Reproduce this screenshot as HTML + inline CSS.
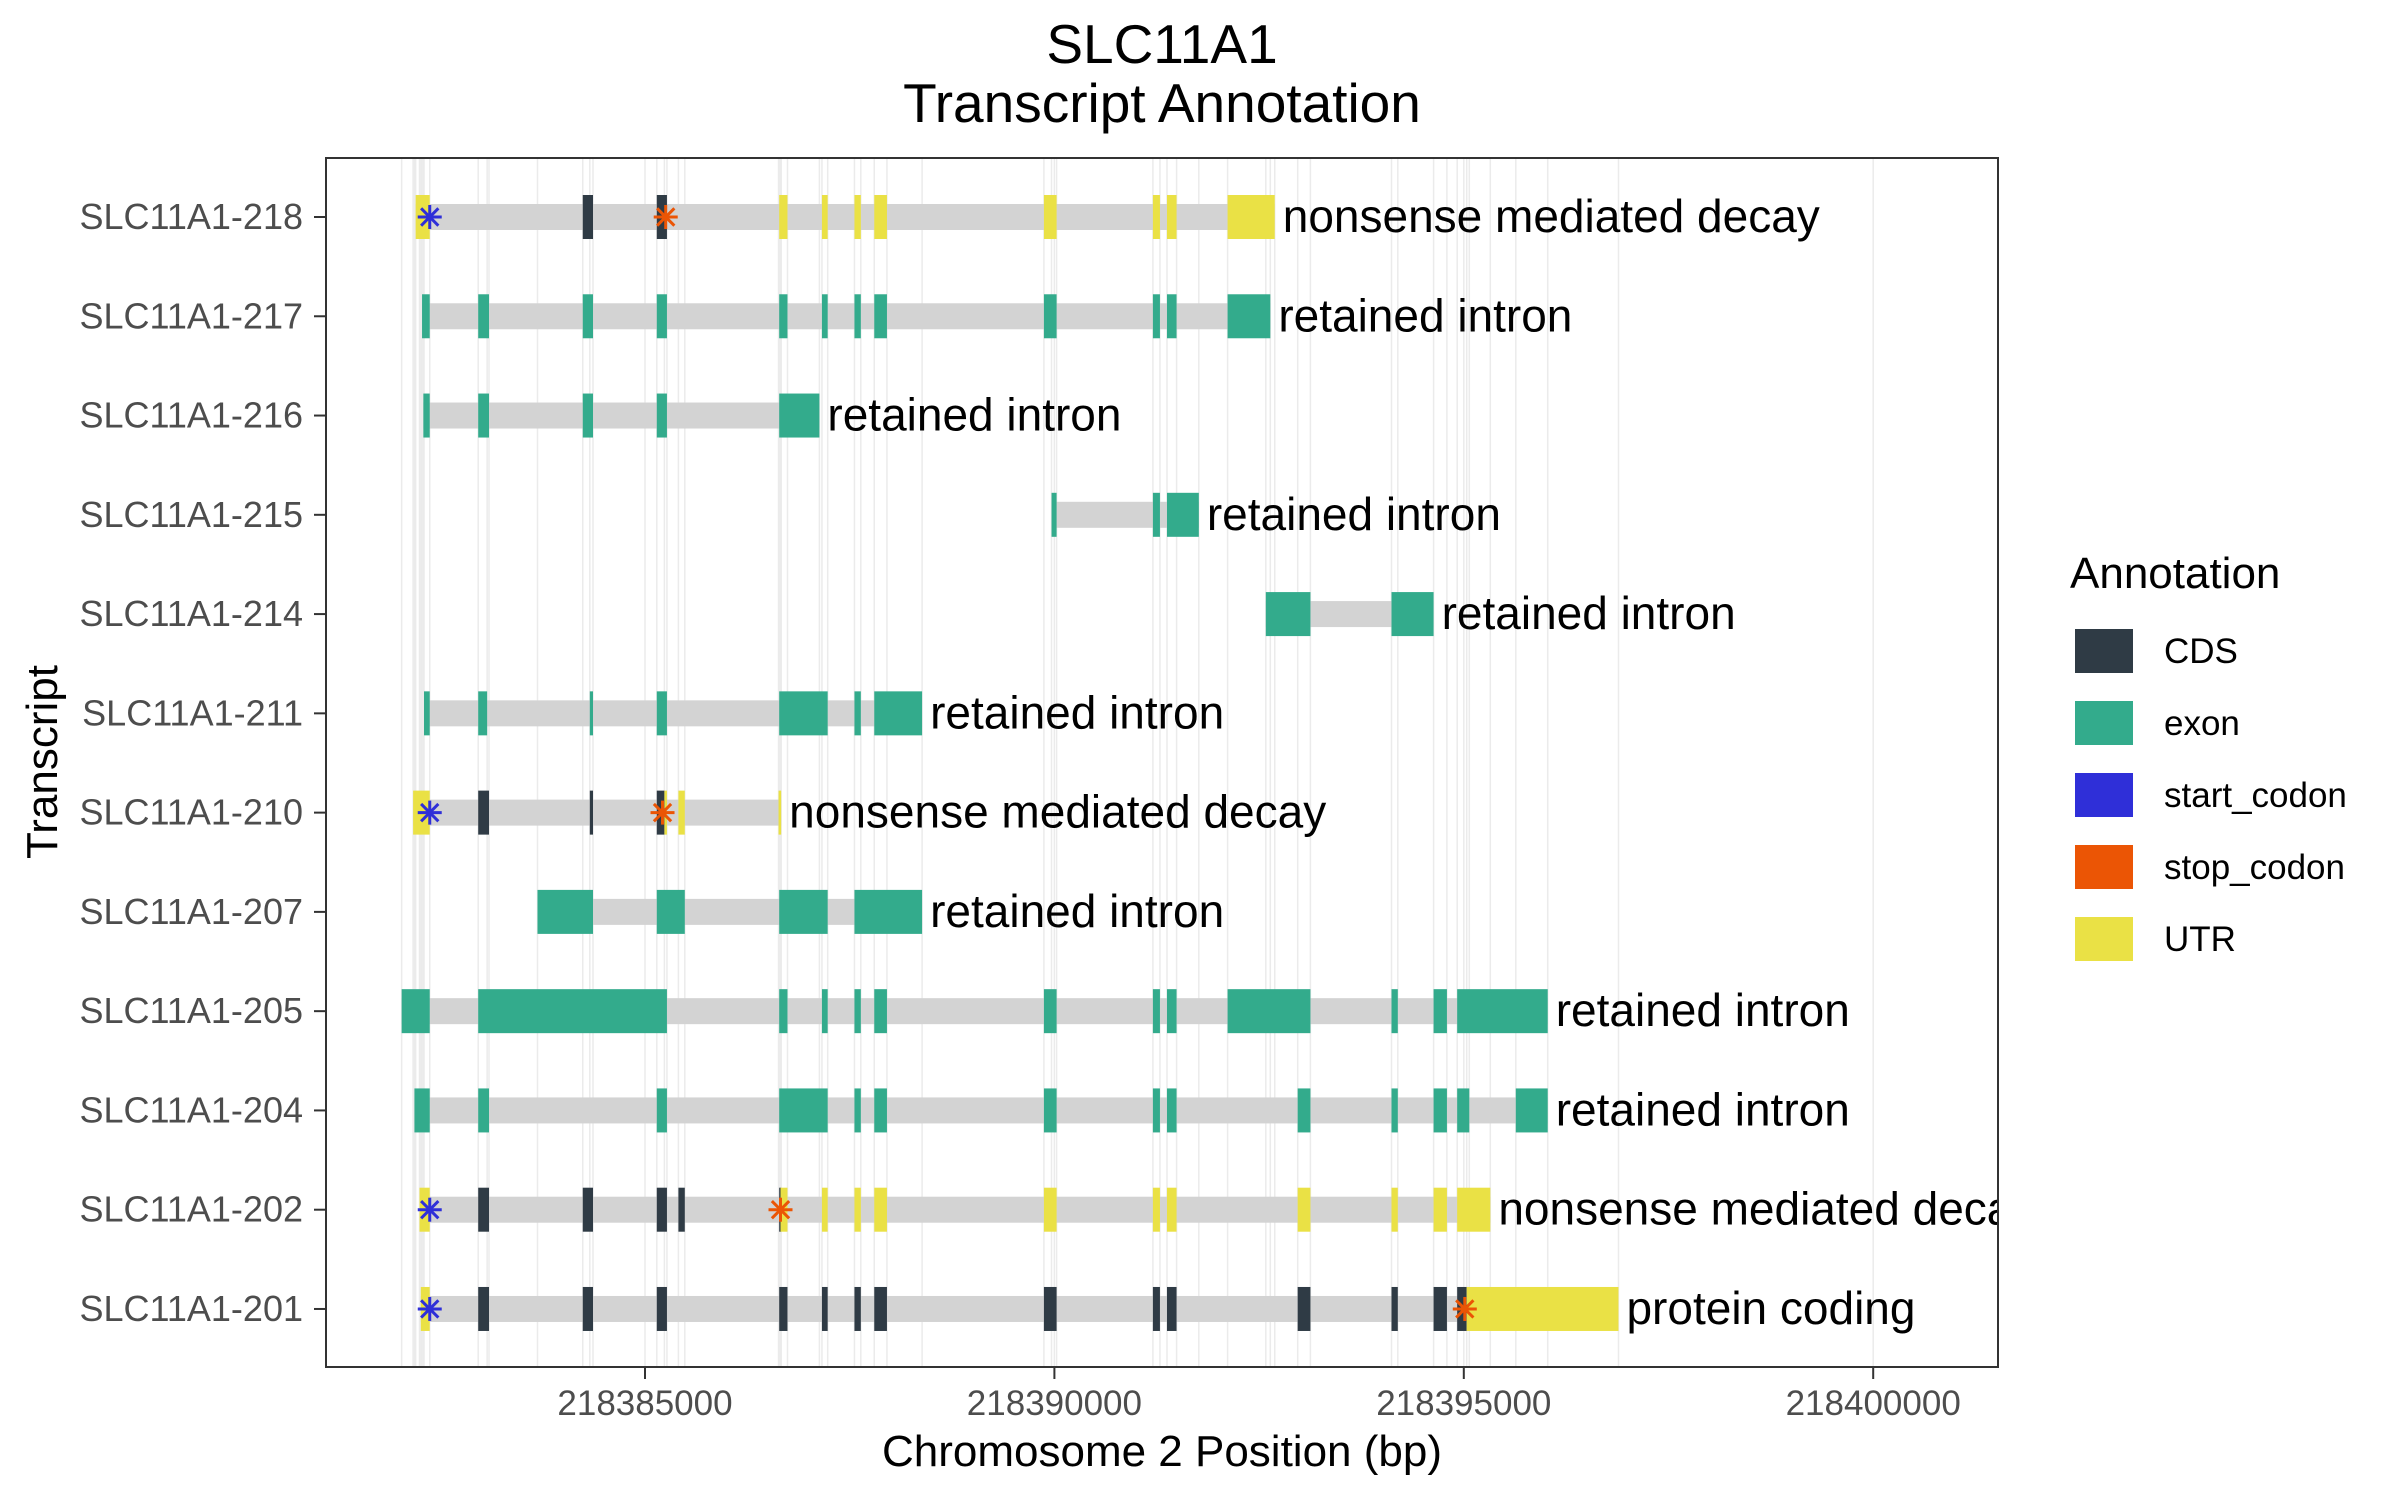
<!DOCTYPE html>
<html><head><meta charset="utf-8"><style>
html,body{margin:0;padding:0;background:#fff;}
svg{display:block;font-family:"Liberation Sans",Arial,sans-serif;}
</style></head><body>
<svg id="chart" width="2400" height="1500" viewBox="0 0 2400 1500" xmlns="http://www.w3.org/2000/svg">
<defs><clipPath id="panelClip"><rect x="326" y="158" width="1672" height="1209"/></clipPath></defs>
<rect width="2400" height="1500" fill="#fff"/>
<text x="1162" y="63" font-size="55" text-anchor="middle" fill="#000">SLC11A1</text>
<text x="1162" y="122" font-size="55" text-anchor="middle" fill="#000">Transcript Annotation</text>
<g id="grid"></g>
<g id="marks" clip-path="url(#panelClip)"></g>
<rect x="326" y="158" width="1672" height="1209" fill="none" stroke="#333" stroke-width="2"/>
<g id="axes"></g>
<text x="1162" y="1466" font-size="44" text-anchor="middle" fill="#000">Chromosome 2 Position (bp)</text>
<text transform="translate(57,762) rotate(-90)" font-size="44" text-anchor="middle" fill="#000">Transcript</text>
<g id="legend">
<text x="2070" y="588" font-size="44" fill="#000">Annotation</text>
</g>
</svg>
<script>
const transcripts = ["SLC11A1-218","SLC11A1-217","SLC11A1-216","SLC11A1-215","SLC11A1-214","SLC11A1-211","SLC11A1-210","SLC11A1-207","SLC11A1-205","SLC11A1-204","SLC11A1-202","SLC11A1-201"];
const biotypes = ["nonsense mediated decay","retained intron","retained intron","retained intron","retained intron","retained intron","nonsense mediated decay","retained intron","retained intron","retained intron","nonsense mediated decay","protein coding"];
const xTicks = [218385000,218390000,218395000,218400000];
const tx218 = [["U",218382199,218382371],["C",218384240,218384365],["C",218385144,218385268],["U",218386639,218386740],["U",218387161,218387231],["U",218387558,218387636],["U",218387800,218387955],["U",218389872,218390027],["U",218391203,218391289],["U",218391375,218391492],["U",218392115,218392691]];
const tx217 = [["E",218382277,218382371],["E",218382963,218383095],["E",218384240,218384365],["E",218385144,218385268],["E",218386639,218386740],["E",218387161,218387231],["E",218387558,218387636],["E",218387800,218387955],["E",218389872,218390027],["E",218391203,218391289],["E",218391375,218391492],["E",218392115,218392637]];
const tx216 = [["E",218382293,218382371],["E",218382963,218383095],["E",218384240,218384365],["E",218385144,218385268],["E",218386639,218387130]];
const tx215 = [["E",218389965,218390027],["E",218391203,218391289],["E",218391375,218391764]];
const tx214 = [["E",218392582,218393127],["E",218394117,218394631]];
const tx211 = [["E",218382301,218382371],["E",218382963,218383072],["E",218384326,218384365],["E",218385144,218385268],["E",218386639,218387231],["E",218387558,218387636],["E",218387800,218388384]];
const tx210 = [["U",218382168,218382371],["C",218382963,218383095],["C",218384326,218384365],["C",218385144,218385237],["U",218385237,218385268],["U",218385408,218385486],["U",218386631,218386663]];
const tx207 = [["E",218383687,218384365],["E",218385144,218385486],["E",218386639,218387231],["E",218387558,218388384]];
const tx205 = [["E",218382028,218382371],["E",218382963,218385268],["E",218386639,218386740],["E",218387161,218387231],["E",218387558,218387636],["E",218387800,218387955],["E",218389872,218390027],["E",218391203,218391289],["E",218391375,218391492],["E",218392115,218393127],["E",218394117,218394194],["E",218394631,218394794],["E",218394919,218396025]];
const tx204 = [["E",218382184,218382371],["E",218382963,218383095],["E",218385144,218385268],["E",218386639,218387231],["E",218387558,218387636],["E",218387800,218387955],["E",218389872,218390027],["E",218391203,218391289],["E",218391375,218391492],["E",218392971,218393127],["E",218394117,218394194],["E",218394631,218394794],["E",218394919,218395067],["E",218395635,218396025]];
const tx202 = [["U",218382246,218382371],["C",218382963,218383095],["C",218384240,218384365],["C",218385144,218385268],["C",218385408,218385486],["C",218386639,218386655],["U",218386655,218386740],["U",218387161,218387231],["U",218387558,218387636],["U",218387800,218387955],["U",218389872,218390027],["U",218391203,218391289],["U",218391375,218391492],["U",218392971,218393127],["U",218394117,218394194],["U",218394631,218394794],["U",218394919,218395324]];
const tx201 = [["U",218382262,218382371],["C",218382963,218383095],["C",218384240,218384365],["C",218385144,218385268],["C",218386639,218386740],["C",218387161,218387231],["C",218387558,218387636],["C",218387800,218387955],["C",218389872,218390027],["C",218391203,218391289],["C",218391375,218391492],["C",218392971,218393127],["C",218394117,218394194],["C",218394631,218394794],["C",218394919,218395035],["U",218395035,218396889]];
const startCodons = [[0,218382371],[6,218382371],[10,218382371],[11,218382371]];
const stopCodons = [[0,218385253],[6,218385214],[10,218386655],[11,218395012]];

const features = [tx218,tx217,tx216,tx215,tx214,tx211,tx210,tx207,tx205,tx204,tx202,tx201];
const colors = {C:"#2F3B45",E:"#33AB8C",U:"#EAE145"};
const typeNames = {C:"cds",E:"exon",U:"utr"};
const NS = "http://www.w3.org/2000/svg";
function xs(bp){ return 645 + (bp - 218385000) / 5000 * 409.4; }
function ys(i){ return 217 + i * 99.27; }
function mk(tag, attrs, parent){ const e = document.createElementNS(NS, tag); for (const k in attrs) e.setAttribute(k, attrs[k]); parent.appendChild(e); return e; }
const grid = document.getElementById('grid');
const marks = document.getElementById('marks');
const axes = document.getElementById('axes');

const bset = new Set();
features.forEach(f => f.forEach(d => { bset.add(d[1]); bset.add(d[2]); }));
xTicks.forEach(t => bset.add(t));
bset.forEach(b => {
  const x = xs(b);
  if (x < 326 || x > 1998) return;
  const l = mk('line', {x1:x, x2:x, y1:158, y2:1367, stroke:"#EBEBEB", 'stroke-width':1.5}, grid);
  
  
});

features.forEach((f, i) => {
  const y = ys(i);
  const g = mk('g', {}, marks);
  
  
  let mn = Infinity, mx = -Infinity;
  f.forEach(d => { mn = Math.min(mn, d[1]); mx = Math.max(mx, d[2]); });
  const intr = mk('rect', {x:xs(mn), y:y-13, width:xs(mx)-xs(mn), height:26, fill:"#D3D3D3"}, g);
  
  
  f.forEach(d => {
    const r = mk('rect', {x:xs(d[1]), y:y-22, width:Math.max(xs(d[2])-xs(d[1]),2), height:44, fill:colors[d[0]]}, g);
    
    
  });
  const t = mk('text', {x:xs(mx)+8, y:y+15, 'font-size':46, fill:"#000"}, g);
  
  
  t.textContent = biotypes[i];
});

function star(list, color, name){
  list.forEach(s => {
    const cx = xs(s[1]), cy = ys(s[0]), r = 12;
    const g = mk('g', {stroke:color, 'stroke-width':3}, marks);
    
    
    mk('line', {x1:cx-r, x2:cx+r, y1:cy, y2:cy}, g);
    mk('line', {x1:cx, x2:cx, y1:cy-r, y2:cy+r}, g);
    const d = r * 0.72;
    mk('line', {x1:cx-d, x2:cx+d, y1:cy-d, y2:cy+d}, g);
    mk('line', {x1:cx-d, x2:cx+d, y1:cy+d, y2:cy-d}, g);
  });
}
star(startCodons, "#2F2FD8", 'start-codon-marker');
star(stopCodons, "#EB5505", 'stop-codon-marker');

transcripts.forEach((name, i) => {
  const y = ys(i);
  const tk = mk('line', {x1:314, x2:326, y1:y, y2:y, stroke:"#333", 'stroke-width':2}, axes);
  
  
  const t = mk('text', {x:303, y:y+12, 'font-size':36, 'text-anchor':'end', fill:"#4D4D4D"}, axes);
  
  
  t.textContent = name;
});
xTicks.forEach(v => {
  const x = xs(v);
  const tk = mk('line', {x1:x, x2:x, y1:1367, y2:1379, stroke:"#333", 'stroke-width':2}, axes);
  
  
  const t = mk('text', {x:x, y:1415, 'font-size':35, 'text-anchor':'middle', fill:"#4D4D4D"}, axes);
  
  
  t.textContent = String(v);
});

const legendLabels = ["CDS","exon","start_codon","stop_codon","UTR"];
const legendColors = ["#2F3B45","#33AB8C","#2F2FD8","#EB5505","#EAE145"];
const legend = document.getElementById('legend');
legendLabels.forEach((lab, i) => {
  const y = 629 + i * 72;
  const g = mk('g', {}, legend);
  
  
  mk('rect', {x:2075, y:y, width:58, height:44, fill:legendColors[i]}, g);
  const t = mk('text', {x:2164, y:y+34, 'font-size':35, fill:"#000"}, g);
  t.textContent = lab;
});
</script>
</body></html>
